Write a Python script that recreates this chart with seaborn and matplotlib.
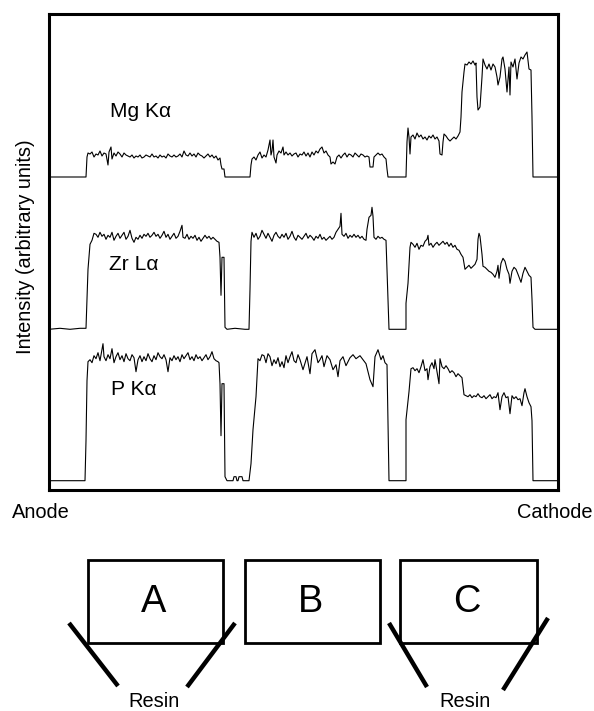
import numpy as np
import pandas as pd
import matplotlib
matplotlib.use("Agg")
import matplotlib.pyplot as plt
import seaborn as sns
from matplotlib.patches import Rectangle

sns.set_theme(style="white")
plt.rcParams['font.family'] = ['Liberation Sans', 'DejaVu Sans']
plt.rcParams['text.color'] = 'black'

# ---------------- data: (scan position, intensity above background) ----------------
mg_trace = [(49,0),(86,0),(87,20),(88,24),(90,23),(92,25),(94,20),(96,23),(98,22),(100,26),(102,21),(104,24),
    (106,23),(108,12),(109,25),(111,30),(112,18),(114,24),(116,21),(118,25),(120,23),(122,20),(124,24),(126,22),
    (128,21),(130,20),(132,22),(134,19),(136,21),(138,20),(140,22),(142,19),(144,20),(146,22),(148,21),(150,20),
    (152,23),(154,20),(156,21),(158,19),(160,22),(162,20),(164,21),(166,19),(168,23),(170,21),(172,20),(174,22),
    (176,20),(178,21),(180,23),(182,20),(184,26),(186,22),(188,21),(190,24),(192,21),(194,23),(196,20),(198,24),
    (200,22),(202,21),(204,19),(206,21),(208,23),(210,20),(212,22),(214,19),(216,21),(218,17),(220,19),(221,12),
    (222,8),(224,8),(225,0),(250,0),(251,12),(252,18),(254,20),(256,17),(258,22),(260,25),(262,19),(264,22),
    (266,20),(268,27),(270,37),(271,22),(272,26),(273,37),(274,20),(276,14),(277,22),(279,26),(281,24),(283,30),
    (284,22),(286,25),(288,22),(290,24),(292,21),(294,23),(296,24),(298,20),(300,23),(302,22),(304,25),(306,21),
    (308,24),(310,20),(312,25),(314,22),(316,26),(318,24),(320,28),(322,30),(324,24),(326,26),(328,22),(330,20),
    (331,13),(333,15),(335,13),(337,20),(339,22),(341,19),(343,22),(345,24),(347,20),(349,23),(351,22),(353,20),
    (355,24),(357,22),(359,20),(361,23),(363,22),(365,20),(367,21),(369,20),(370,10),(373,10),(374,20),(376,22),
    (378,24),(380,22),(382,23),(384,20),(386,18),(387,8),(388,0),(406,0),(407,35),(408,49),(409,40),(410,23),
    (411,40),(413,42),(415,38),(417,44),(419,40),(421,42),(423,38),(425,40),(427,37),(429,41),(431,39),(433,42),
    (435,38),(437,40),(439,36),(440,23),(442,22),(443,35),(444,43),(446,41),(448,38),(450,36),(452,38),(454,40),
    (456,38),(458,41),(460,45),(461,60),(462,85),(464,105),(465,113),(467,112),(469,115),(471,113),(473,116),
    (475,112),(476,114),(477,80),(478,67),(480,70),(482,100),(483,118),(485,112),(487,108),(489,113),(491,107),
    (493,113),(495,110),(497,100),(498,92),(500,100),(502,118),(503,120),(505,108),(507,85),(509,110),(510,82),
    (511,115),(513,110),(515,118),(517,98),(519,114),(521,120),(523,118),(525,122),(527,125),(529,108),(531,107),
    (532,60),(533,0),(558,0)]

zr_trace = [(49,0),(60,1),(70,0),(80,1),(86,1),(88,60),(90,85),(92,89),(94,96),(96,95),(98,92),(100,97),(102,93),
    (104,95),(106,90),(108,94),(110,92),(112,97),(114,89),(116,93),(118,96),(120,91),(122,94),(124,97),(126,90),
    (128,93),(130,99),(132,91),(134,87),(136,92),(138,90),(140,94),(142,91),(144,95),(146,93),(148,96),(150,92),
    (152,94),(154,97),(156,93),(158,95),(160,91),(162,94),(164,98),(166,92),(168,95),(170,90),(172,93),(174,96),
    (176,91),(178,93),(180,98),(182,104),(183,92),(185,91),(187,95),(189,90),(191,93),(193,91),(195,94),(197,89),
    (199,92),(201,88),(203,91),(205,94),(207,91),(209,93),(211,90),(213,92),(215,90),(217,88),(219,87),(220,72),
    (221,34),(222,72),(224,72),(225,2),(227,0),(235,1),(245,0),(249,0),(250,40),(251,88),(252,97),(254,92),(256,96),
    (258,90),(260,93),(262,99),(264,95),(266,91),(268,96),(270,92),(272,88),(274,94),(276,97),(278,93),(280,91),
    (282,95),(284,92),(286,96),(288,90),(290,93),(292,98),(294,92),(296,89),(298,94),(300,92),(302,90),(304,93),
    (306,96),(308,91),(310,94),(312,92),(314,89),(316,93),(318,91),(320,95),(322,90),(324,92),(326,89),(328,91),
    (330,93),(332,90),(334,92),(336,97),(338,100),(340,103),(341,116),(342,95),(344,93),(346,96),(348,91),(350,94),
    (352,92),(354,95),(356,92),(358,94),(360,91),(362,93),(364,90),(366,89),(367,100),(369,112),(371,114),(372,122),
    (373,113),(374,92),(376,90),(378,93),(380,91),(382,92),(384,90),(386,89),(387,60),(389,0),(406,0),(406,26),
    (408,46),(410,82),(411,87),(413,85),(415,82),(417,86),(419,80),(421,84),(423,83),(425,88),(427,90),(428,94),
    (429,84),(431,86),(433,82),(435,85),(437,87),(439,84),(441,86),(443,88),(445,85),(447,87),(449,83),(451,86),
    (453,82),(455,84),(457,80),(459,79),(461,75),(463,72),(465,60),(467,62),(469,64),(471,61),(473,63),(475,65),
    (477,70),(478,90),(479,96),(480,93),(482,75),(483,63),(485,62),(487,60),(489,58),(491,57),(493,55),(495,52),
    (497,58),(498,64),(499,51),(501,66),(503,71),(505,68),(507,60),(509,55),(510,46),(512,58),(514,62),(516,60),
    (518,55),(521,47),(523,56),(525,62),(527,58),(529,54),(531,52),(532,30),(533,2),(535,0),(558,0)]

p_trace = [(49,0),(85,0),(86,40),(87,100),(88,119),(90,121),(92,118),(94,125),(96,122),(98,128),(100,120),(102,131),
    (103,137),(104,124),(106,120),(108,126),(110,122),(112,132),(114,118),(116,124),(118,128),(120,121),(122,125),
    (124,119),(126,127),(128,122),(130,120),(132,126),(134,123),(136,109),(138,121),(140,125),(142,119),(144,124),
    (146,120),(148,127),(150,122),(152,119),(154,125),(156,121),(158,128),(160,124),(162,122),(164,126),(166,121),
    (168,109),(170,123),(172,120),(174,125),(176,121),(178,124),(180,119),(182,126),(184,122),(186,125),(188,128),
    (190,121),(192,124),(194,120),(196,126),(198,122),(200,124),(202,120),(204,123),(206,126),(208,121),(210,124),
    (212,129),(214,122),(216,120),(218,119),(219,118),(220,97),(221,45),(222,97),(224,97),(225,4),(227,0),(233,0),
    (234,4),(236,4),(237,0),(238,0),(239,4),(242,4),(243,0),(249,0),(251,17),(253,51),(256,84),(258,122),(260,120),
    (262,126),(264,125),(266,118),(268,127),(270,124),(272,115),(274,121),(276,117),(278,123),(280,114),(282,119),
    (284,113),(286,125),(288,118),(290,124),(292,129),(294,120),(296,118),(298,126),(300,121),(303,111),(307,124),
    (310,107),(312,127),(315,131),(318,118),(320,121),(322,125),(324,114),(327,125),(330,121),(333,111),(336,116),
    (338,104),(340,120),(343,124),(346,115),(350,123),(353,126),(356,122),(360,125),(363,121),(366,117),(370,101),
    (373,94),(375,124),(378,131),(381,121),(383,125),(385,118),(387,116),(388,60),(389,0),(406,0),(406,61),(409,89),
    (411,112),(413,113),(415,110),(417,112),(419,108),(421,114),(423,121),(425,110),(427,112),(428,101),(430,114),
    (432,118),(434,112),(435,121),(437,109),(439,97),(440,122),(442,114),(444,112),(446,115),(448,112),(450,108),
    (452,110),(454,108),(456,104),(458,107),(460,105),(462,103),(464,86),(466,85),(468,84),(470,86),(472,83),
    (474,85),(476,84),(478,87),(480,84),(482,83),(484,85),(486,82),(488,84),(490,86),(492,82),(494,84),(496,83),
    (498,88),(500,71),(502,84),(504,88),(506,83),(508,84),(510,67),(512,85),(514,82),(516,84),(518,81),(520,82),
    (522,75),(524,88),(525,92),(527,84),(529,78),(531,74),(532,60),(533,0),(558,0)]

elements = ["Mg K\u03b1", "Zr L\u03b1", "P K\u03b1"]
traces = [mg_trace, zr_trace, p_trace]
stack_offset = [313, 160.7, 9.3]   # vertical stacking of the traces

samples = ["A", "B", "C"]

frames = []
for name, tr, off in zip(elements, traces, stack_offset):
    arr = np.array(tr, dtype=float)
    frames.append(pd.DataFrame({"position": arr[:, 0], "intensity": arr[:, 1] + off, "element": name}))
df = pd.concat(frames, ignore_index=True)

# ---------------- figure ----------------
W, H = 594, 711
fig = plt.figure(figsize=(W / 100, H / 100), dpi=100)

L, R, T, B = 49, 558, 14, 490
ax = fig.add_axes([L / W, 1 - B / H, (R - L) / W, (B - T) / H])
sns.lineplot(data=df, x="position", y="intensity", units="element", estimator=None, sort=False,
             color="black", linewidth=0.8, ax=ax)
ax.set_xlim(L, R)
ax.set_ylim(0, B - T)
ax.set_xticks([]); ax.set_yticks([])
ax.set_xlabel(""); ax.set_ylabel("")
for s in ax.spines.values():
    s.set_visible(True)
    s.set_color("black")
    s.set_linewidth(2.2)

# overlay in pixel coordinates for texts & the sample diagram
ov = fig.add_axes([0, 0, 1, 1], zorder=5)
ov.set_xlim(0, W); ov.set_ylim(H, 0)
ov.axis("off")
ov.patch.set_alpha(0)

fs = 0.72  # px -> pt
ov.text(26, 247, "Intensity (arbitrary units)", rotation=90, ha="center", va="center",
        fontsize=20 * fs, color="black")
ov.text(12, 518, "Anode", ha="left", va="baseline", fontsize=20 * fs, color="black")
ov.text(593, 518, "Cathode", ha="right", va="baseline", fontsize=20 * fs, color="black")

label_pos = [(110, 117), (109, 270), (111, 395)]
for name, (lx, ly) in zip(elements, label_pos):
    ov.text(lx, ly, name, ha="left", va="baseline", fontsize=21 * fs, color="black")

# sample diagram
boxes = [(88, 223), (245, 380), (400, 537)]
for lab, (x0, x1) in zip(samples, boxes):
    ov.add_patch(Rectangle((x0, 560), x1 - x0, 83, fill=False, lw=2.0, edgecolor="black"))
    ov.text((x0 + x1) / 2 - 2, 612, lab, ha="center", va="baseline", fontsize=38 * fs, color="black")

resin_lines = [((69, 623), (118, 686)), ((235, 623), (187, 687)),
               ((389, 623), (427, 687)), ((548, 618), (503, 690))]
for (x0, y0), (x1, y1) in resin_lines:
    ov.plot([x0, x1], [y0, y1], color="black", lw=3.2, solid_capstyle="butt")
ov.text(154, 707, "Resin", ha="center", va="baseline", fontsize=20 * fs, color="black")
ov.text(465, 707, "Resin", ha="center", va="baseline", fontsize=20 * fs, color="black")

fig.savefig("out.png", dpi=100)
